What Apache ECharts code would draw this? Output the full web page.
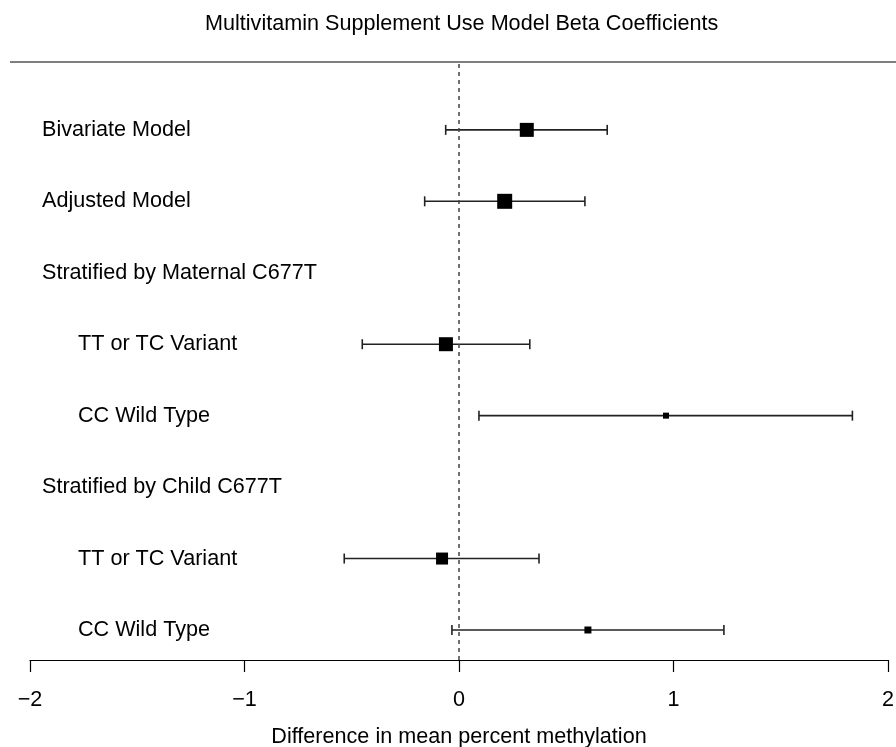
<!DOCTYPE html>
<html>
<head>
<meta charset="utf-8">
<script src="https://cdn.jsdelivr.net/npm/echarts@6/dist/echarts.min.js"></script>
<style>html,body{margin:0;padding:0;background:#fff}#c{width:896px;height:747px}</style>
</head>
<body>
<div id="c"></div>
<script>
// Rows from top to bottom
var rowLabels = ['Bivariate Model', 'Adjusted Model', 'Stratified by Maternal C677T', 'TT or TC Variant', 'CC Wild Type', 'Stratified by Child C677T', 'TT or TC Variant', 'CC Wild Type'];
var rowIndent = [false, false, false, true, true, false, true, true];
var estimates = [0.316, 0.213, null, -0.061, 0.965, null, -0.079, 0.601];
var lowerCI = [-0.062, -0.160, null, -0.451, 0.093, null, -0.535, -0.033];
var upperCI = [0.691, 0.587, null, 0.330, 1.834, null, 0.373, 1.235];
var markerSize = [14, 15, null, 14, 6, null, 12, 7];
var xTicks = [-2, -1, 0, 1, 2];

var n = rowLabels.length;
function rowY(i) { return n - i; }

var barData = [], pointData = [], labelData = [];
for (var i = 0; i < n; i++) {
  labelData.push({ value: [-2, rowY(i)], name: rowLabels[i], indent: rowIndent[i] });
  if (estimates[i] !== null) {
    barData.push([lowerCI[i], upperCI[i], rowY(i)]);
    pointData.push({ value: [estimates[i], rowY(i)], symbolSize: markerSize[i] });
  }
}

var chart = echarts.init(document.getElementById('c'));
var font = 'Liberation Sans, Arial, sans-serif';
var fs = 21.6;
chart.setOption({
  animation: false,
  backgroundColor: '#fff',
  title: {
    text: 'Multivitamin Supplement Use Model Beta Coefficients',
    left: 200, top: 8,
    textStyle: { fontFamily: font, fontSize: fs, fontWeight: 'normal', color: '#000' }
  },
  graphic: [{
    type: 'line', shape: { x1: 10, y1: 62, x2: 896, y2: 62 },
    style: { stroke: '#555', lineWidth: 1.5 }, z: 10
  }],
  grid: { left: 30, right: 8, top: 62, bottom: 87, outerBoundsMode: 'none', containLabel: false },
  xAxis: {
    type: 'value', min: -2, max: 2, interval: 1,
    splitLine: { show: false },
    axisLine: { show: true, onZero: false, lineStyle: { color: '#000', width: 1.2 } },
    axisTick: { show: true, length: 12, lineStyle: { color: '#000', width: 1.2 } },
    axisLabel: {
      margin: 29, fontFamily: font, fontSize: fs, color: '#000',
      formatter: function (v) { return v < 0 ? '\u2212' + Math.abs(v) : String(v); }
    },
    name: 'Difference in mean percent methylation',
    nameLocation: 'middle', nameGap: 66,
    nameTextStyle: { fontFamily: font, fontSize: fs, color: '#000' }
  },
  yAxis: {
    type: 'value', min: 0.58, max: 8.95, show: false
  },
  series: [
    {
      type: 'custom',
      data: barData,
      encode: { x: [0, 1], y: 2 },
      renderItem: function (params, api) {
        var p1 = api.coord([api.value(0), api.value(2)]);
        var p2 = api.coord([api.value(1), api.value(2)]);
        var h = 5;
        var st = { stroke: '#222', lineWidth: 1.6 };
        return {
          type: 'group',
          children: [
            { type: 'line', shape: { x1: p1[0], y1: p1[1], x2: p2[0], y2: p2[1] }, style: st },
            { type: 'line', shape: { x1: p1[0], y1: p1[1] - h, x2: p1[0], y2: p1[1] + h }, style: st },
            { type: 'line', shape: { x1: p2[0], y1: p2[1] - h, x2: p2[0], y2: p2[1] + h }, style: st }
          ]
        };
      },
      markLine: {
        silent: true, symbol: 'none', label: { show: false },
        lineStyle: { color: '#444', type: [4, 4], width: 1.5 },
        data: [{ xAxis: 0 }]
      },
      z: 2
    },
    {
      type: 'scatter',
      data: pointData,
      symbol: 'rect',
      itemStyle: { color: '#000', opacity: 1 },
      z: 3
    },
    {
      type: 'scatter',
      data: labelData,
      symbolSize: 0,
      silent: true,
      itemStyle: { opacity: 1 },
      label: {
        show: true, position: 'right', distance: 12,
        fontFamily: font, fontSize: fs, color: '#000', opacity: 1,
        formatter: function (p) { return p.data.indent ? '{i|' + p.data.name + '}' : p.data.name; },
        rich: { i: { padding: [0, 0, 0, 36], fontFamily: font, fontSize: fs, color: '#000' } }
      }
    }
  ]
});
</script>
</body>
</html>
